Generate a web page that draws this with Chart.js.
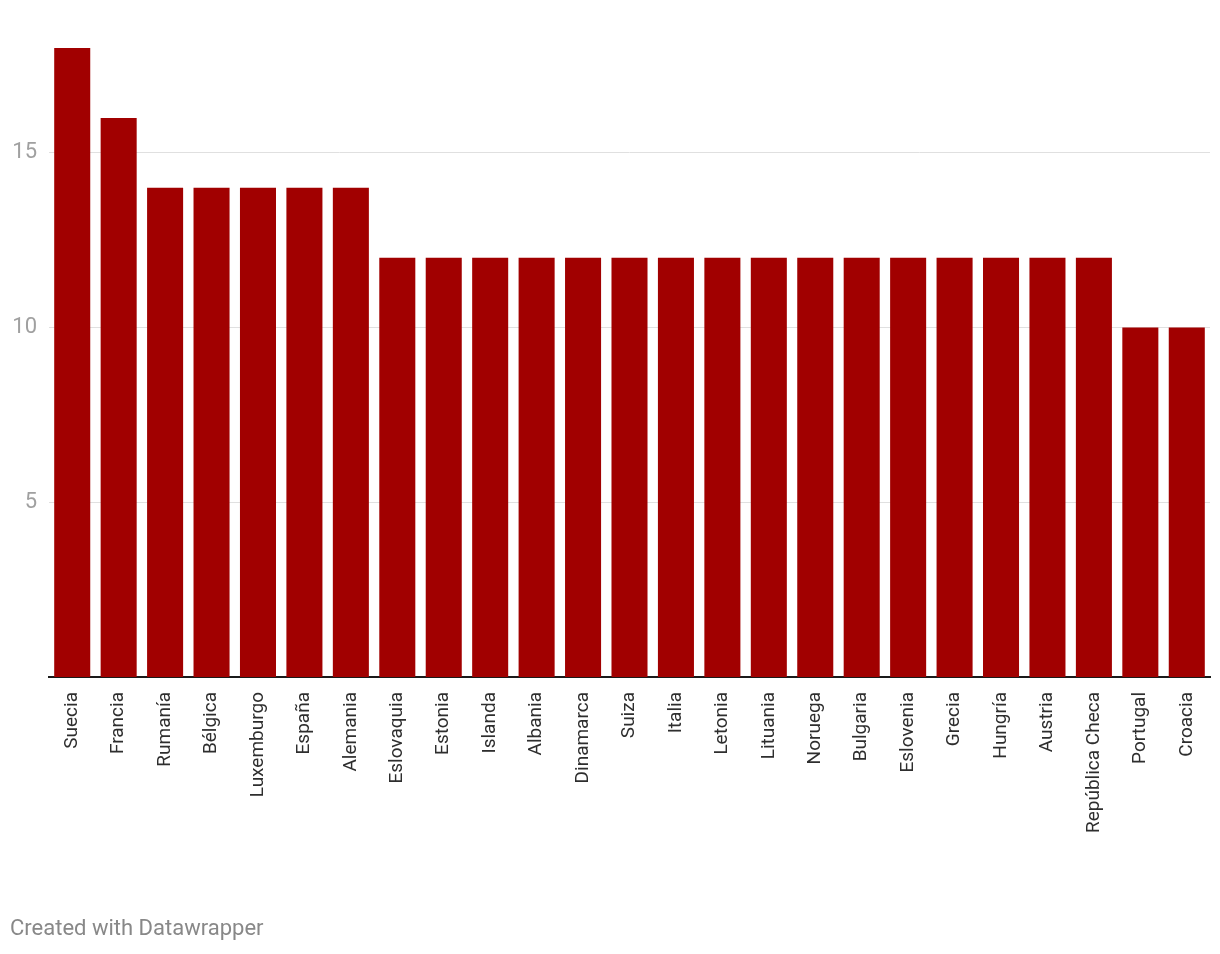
<!DOCTYPE html>
<html>
<head>
<meta charset="utf-8">
<script src="https://cdn.jsdelivr.net/npm/chart.js@4/dist/chart.umd.min.js"></script>
<style>
  body { margin: 0; background: #fff; }
  #wrap { position: relative; width: 1220px; height: 954px; }
  #footer {
    position: absolute; left: 10px; top: 917px;
    font-family: Roboto, sans-serif; font-size: 22px; line-height: 22px;
    color: #888;
  }
</style>
</head>
<body>
<div id="wrap">
  <canvas id="myChart" width="1220" height="954"></canvas>
  <div id="footer">Created with Datawrapper</div>
</div>
<script>
const countries = [
    'Suecia', 'Francia', 'Rumanía', 'Bélgica', 'Luxemburgo', 'España', 'Alemania',
    'Eslovaquia', 'Estonia', 'Islanda', 'Albania', 'Dinamarca', 'Suiza', 'Italia',
    'Letonia', 'Lituania', 'Noruega', 'Bulgaria', 'Eslovenia', 'Grecia', 'Hungría',
    'Austria', 'República Checa', 'Portugal', 'Croacia',
];

const values = [
    18, 16, 14, 14, 14, 14, 14,
    12, 12, 12, 12, 12, 12, 12,
    12, 12, 12, 12, 12, 12, 12,
    12, 12, 10, 10,
];

const yTicks = [5, 10, 15];

const data = {
    labels: countries,
    datasets: [
    {
        data: values,
        backgroundColor: 'rgb(161, 0, 0)',
        borderWidth: 0,
        barPercentage: 0.776,
        categoryPercentage: 1,
    }
]
};

const config = {
    type: 'bar',
    data: data,
    options: {
        responsive: false,
        animation: false,
        devicePixelRatio: 1,
        layout: { padding: { left: 11, right: 10, top: 48, bottom: 77 } },
        plugins: {
            legend: { display: false },
            tooltip: { enabled: false },
        },
        scales: {
            x: {
                grid: { display: false, drawTicks: false },
                border: { display: true, color: '#1a1a1a', width: 2 },
                ticks: {
                    minRotation: 90,
                    maxRotation: 90,
                    autoSkip: false,
                    padding: 15,
                    color: '#2e2e2e',
                    font: { family: 'Roboto', size: 19 },
                },
                afterFit: (scale) => {
                    scale.height = 200;
                    scale.paddingLeft = 0;
                    scale.paddingRight = 0;
                },
            },
            y: {
                min: 0,
                max: 18,
                grid: { color: '#e0e0e0', lineWidth: 1, drawTicks: false },
                border: { display: false },
                ticks: {
                    padding: 12,
                    color: '#a0a0a0',
                    font: { family: 'Roboto', size: 22 },
                },
                afterBuildTicks: (scale) => {
                    scale.ticks = yTicks.map(v => ({ value: v }));
                },
                afterFit: (scale) => {
                    scale.width = 38;
                    scale.paddingTop = 0;
                    scale.paddingBottom = 0;
                },
            },
        },
    },
};

const myChart = new Chart(
    document.getElementById('myChart'),
    config
);
</script>
</body>
</html>
